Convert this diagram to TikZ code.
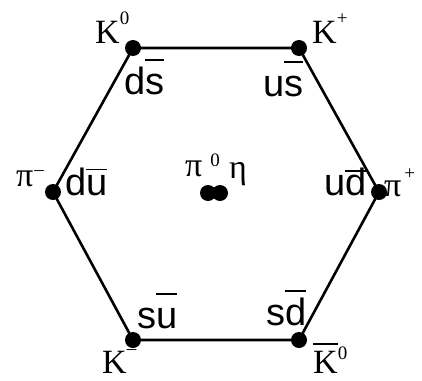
\documentclass[tikz,border=0pt]{standalone}
\usepackage{fontspec}
\setmainfont{Liberation Serif}
\newfontfamily\qfont{Liberation Sans}
\newcommand\qb[2][0.87em]{\setbox0=\hbox{#2}\rlap{\rule[#1]{\wd0}{1.8pt}}\box0}
\newcommand\supx[2]{\raisebox{#1}{\fontsize{19}{19}\selectfont #2}}
\tikzset{
  edge/.style={line width=2.6pt},
  dot/.style={circle, fill=black, inner sep=0pt, minimum size=16pt},
  plabel/.style={inner sep=0pt, anchor=base west, font=\fontsize{34}{34}\selectfont},
  qlabel/.style={inner sep=0pt, anchor=base west, font=\qfont\fontsize{38}{38}\selectfont}
}
\begin{document}
\begin{tikzpicture}[x=1pt,y=-1pt]
\useasboundingbox (0,0) rectangle (422,380);
% vertices
\node[dot] (vK0)  at (133,48) {};
\node[dot] (vKp)  at (299,48) {};
\node[dot] (vpip) at (379,192) {};
\node[dot] (vK0b) at (299,340) {};
\node[dot] (vKm)  at (133,340) {};
\node[dot] (vpim) at (53,192) {};
\draw[edge] (vK0.center) -- (vKp.center) -- (vpip.center) -- (vK0b.center)
  -- (vKm.center) -- (vpim.center) -- (vK0.center);
% centre dots
\node[dot] (vpi0) at (208,193) {};
\node[dot] (veta) at (220,193) {};
% particle labels
\node[plabel] (lK0)  at (95,43)   {K\supx{0.53em}{0}};
\node[plabel] (lKp)  at (312,43)  {K\supx{0.55em}{+}};
\node[plabel] (lpim) at (16,186)  {π\kern1pt\supx{0.32em}{–}};
\node[plabel] (lpip) at (384,196) {π\kern3pt\supx{0.5em}{+}};
\node[plabel] (lKm)  at (102,373) {K\supx{0.55em}{–}};
\node[plabel] (lK0b) at (313,373) {\qb[0.82em]{K}\supx{0.4em}{0}};
\node[plabel] (lpi0) at (185,176) {π\kern8pt\supx{0.28em}{0}};
\node[plabel] (leta) at (229,178) {η};
% quark labels
\node[qlabel] (qds) at (124,94)  {d\qb{s}};
\node[qlabel] (qus) at (263,96)  {u\qb{s}};
\node[qlabel] (qdu) at (65,195)  {d\qb[0.65em]{u}};
\node[qlabel] (qud) at (324,195) {u\qb[0.6em]{d}};
\node[qlabel] (qsu) at (137,328) {s\qb{u}};
\node[qlabel] (qsd) at (266,325) {s\qb{d}};
\end{tikzpicture}
\end{document}
